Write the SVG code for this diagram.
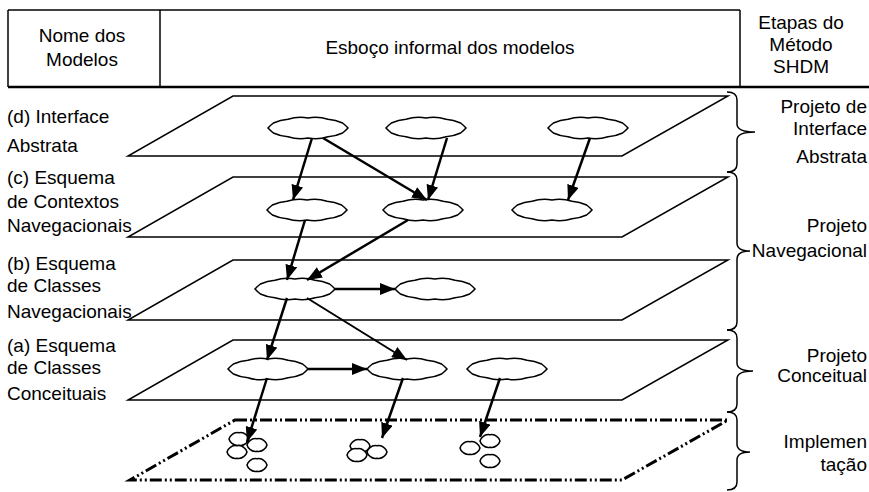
<svg xmlns="http://www.w3.org/2000/svg" xmlns:xlink="http://www.w3.org/1999/xlink" width="869" height="492" viewBox="0 0 869 492">
<style>
text{font-family:"Liberation Sans",Arial,sans-serif;font-size:19px;fill:#000}
.hdr{text-anchor:middle}
.rt{text-anchor:end}
.plane{fill:none;stroke:#000;stroke-width:1.5}
.impl{fill:none;stroke:#000;stroke-width:3;stroke-dasharray:12 3 2 3 2 3}
.cloud{fill:#fff;stroke:#000;stroke-width:1.5}
.arr{stroke:#000;stroke-width:2.5;fill:none;marker-end:url(#ah)}
.brace{fill:none;stroke:#000;stroke-width:1.5}
.hline{stroke:#000;stroke-width:1.5}
</style>
<defs>
<marker id="ah" markerUnits="userSpaceOnUse" markerWidth="16" markerHeight="12" refX="15" refY="6" orient="auto">
<path d="M0,0 L15,6 L0,12 z" fill="#000"/>
</marker>
<path id="cl" class="cloud" d="M40,0 A40,40 0 0 1 34.6,5 A40,40 0 0 1 20,8.7 A40,40 0 0 1 0,10 A40,40 0 0 1 -20,8.7 A40,40 0 0 1 -34.6,5 A40,40 0 0 1 -40,0 A40,40 0 0 1 -34.6,-5 A40,40 0 0 1 -20,-8.7 A40,40 0 0 1 0,-10 A40,40 0 0 1 20,-8.7 A40,40 0 0 1 34.6,-5 A40,40 0 0 1 40,0 z"/>
<path id="sc" class="cloud" d="M10,0 A8,8 0 0 1 7,4.4 A8,8 0 0 1 0,6.2 A8,8 0 0 1 -7,4.4 A8,8 0 0 1 -10,0 A8,8 0 0 1 -7,-4.4 A8,8 0 0 1 0,-6.2 A8,8 0 0 1 7,-4.4 A8,8 0 0 1 10,0 z"/>
</defs>

<g id="header">
<line class="hline" x1="8" y1="10" x2="740" y2="10"/>
<line class="hline" x1="8" y1="10" x2="8" y2="87"/>
<line class="hline" x1="160" y1="10" x2="160" y2="87"/>
<line class="hline" x1="740" y1="10" x2="740" y2="87"/>
<line x1="8" y1="87" x2="869" y2="87" stroke="#000" stroke-width="2.5"/>
<text class="hdr" x="82" y="42">Nome dos</text>
<text class="hdr" x="82" y="66">Modelos</text>
<text class="hdr" x="450" y="54">Esboço informal dos modelos</text>
<text class="hdr" x="801" y="29">Etapas do</text>
<text class="hdr" x="801" y="51">Método</text>
<text class="hdr" x="801" y="73">SHDM</text>
</g>

<g id="planes">
<polygon id="plane-d" class="plane" points="233,96 728,96 622,156 128,156"/>
<polygon id="plane-c" class="plane" points="233,177 728,177 622,237 128,237"/>
<polygon id="plane-b" class="plane" points="233,260 728,260 622,320 128,320"/>
<polygon id="plane-a" class="plane" points="233,340 728,340 622,400 128,400"/>
<polygon id="plane-impl" class="impl" points="235,420 728,420 622,480 130,480"/>
</g>

<g id="labels-left">
<text x="7" y="123">(d) Interface</text>
<text x="7" y="152">Abstrata</text>
<text x="7" y="184">(c) Esquema</text>
<text x="7" y="208">de Contextos</text>
<text x="7" y="232">Navegacionais</text>
<text x="7" y="270">(b) Esquema</text>
<text x="7" y="292">de Classes</text>
<text x="7" y="318">Navegacionais</text>
<text x="7" y="352">(a) Esquema</text>
<text x="7" y="374">de Classes</text>
<text x="7" y="400">Conceituais</text>
</g>

<g id="nodes">
<use id="d1" href="#cl" x="308" y="128"/>
<use id="d2" href="#cl" x="426" y="128"/>
<use id="d3" href="#cl" x="588" y="128"/>
<use id="c1" href="#cl" x="307" y="210"/>
<use id="c2" href="#cl" x="423" y="210"/>
<use id="c3" href="#cl" x="552" y="210"/>
<use id="b1" href="#cl" x="295" y="289"/>
<use id="b2" href="#cl" x="435" y="289"/>
<use id="a1" href="#cl" x="268" y="369"/>
<use id="a2" href="#cl" x="407" y="369"/>
<use id="a3" href="#cl" x="507" y="369"/>
<g id="impl1">
<use href="#sc" x="239" y="439"/>
<use href="#sc" x="257" y="445"/>
<use href="#sc" x="237" y="452"/>
<use href="#sc" x="257" y="465"/>
</g>
<g id="impl2">
<use href="#sc" x="360" y="446"/>
<use href="#sc" x="357" y="455"/>
<use href="#sc" x="377" y="452"/>
</g>
<g id="impl3">
<use href="#sc" x="470" y="448"/>
<use href="#sc" x="490" y="441"/>
<use href="#sc" x="490" y="461"/>
</g>
</g>

<g id="connectors">
<line class="arr" x1="312" y1="138" x2="293" y2="200"/>
<line class="arr" x1="323" y1="138" x2="427" y2="200"/>
<line class="arr" x1="447" y1="138" x2="428" y2="200"/>
<line class="arr" x1="590" y1="138" x2="568" y2="200"/>
<line class="arr" x1="305" y1="220" x2="287" y2="280"/>
<line class="arr" x1="408" y1="220" x2="307" y2="280"/>
<line class="arr" x1="335" y1="289" x2="395" y2="289"/>
<line class="arr" x1="287" y1="298" x2="267" y2="360"/>
<line class="arr" x1="307" y1="298" x2="407" y2="360" style="stroke-width:2"/>
<line class="arr" x1="308" y1="369" x2="367" y2="369"/>
<line class="arr" x1="267" y1="378" x2="247" y2="442"/>
<line class="arr" x1="403" y1="378" x2="382" y2="438"/>
<line class="arr" x1="500" y1="378" x2="480" y2="437"/>
</g>

<g id="braces">
<path class="brace" d="M727,92 Q737,92 737,100 L737,124 Q737,132 755,132 Q737,132 737,140 L737,164 Q737,172 727,172"/>
<path class="brace" d="M727,172 Q737,172 737,180 L737,243 Q737,251 750,251 Q737,251 737,259 L737,322 Q737,330 727,330"/>
<path class="brace" d="M727,330 Q737,330 737,338 L737,363 Q737,371 753,371 Q737,371 737,379 L737,404 Q737,412 727,412"/>
<path class="brace" d="M727,412 Q737,412 737,420 L737,444 Q737,452 750,452 Q737,452 737,460 L737,482 Q737,490 727,490"/>
</g>

<g id="labels-right">
<text class="rt" x="867" y="113">Projeto de</text>
<text class="rt" x="867" y="135">Interface</text>
<text class="rt" x="867" y="163">Abstrata</text>
<text class="rt" x="867" y="232">Projeto</text>
<text class="rt" x="867" y="257">Navegacional</text>
<text class="rt" x="867" y="362">Projeto</text>
<text class="rt" x="867" y="382">Conceitual</text>
<text class="rt" x="867" y="448">Implemen</text>
<text class="rt" x="867" y="471">tação</text>
</g>
</svg>
